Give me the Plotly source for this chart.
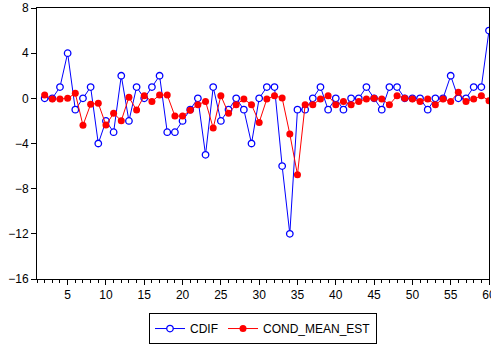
import plotly.graph_objects as go

obs = list(range(2, 61))
cdif = [0, 0, 1, 4, -1, 0, 1, -4, -2, -3, 2, -2, 1, 0, 1, 2, -3, -3, -2, -1,
        0, -5, 1, -2, -1, 0, -1, -4, 0, 1, 1, -6, -12, -1, -1, 0, 1, -1, 0, -1,
        0, 0, 1, 0, -1, 1, 1, 0, 0, 0, -1, 0, 0, 2, 0, 0, 1, 1, 6]
cond_mean_est = [0.29, -0.06, -0.06, 0.0, 0.44, -2.39, -0.53, -0.44, -2.36, -1.33,
                 -1.98, 0.09, -1.04, 0.23, -0.27, 0.29, 0.29, -1.57, -1.57, -1.06,
                 -0.56, -0.27, -2.63, 0.23, -1.33, -0.56, -0.06, -0.56, -2.13, -0.06,
                 0.23, 0.03, -3.16, -6.76, -0.56, -0.56, -0.06, 0.23, -0.56, -0.27,
                 -0.56, -0.27, -0.06, 0.0, -0.06, -0.56, 0.23, 0.0, -0.06, -0.27,
                 -0.06, -0.56, -0.06, -0.27, 0.53, -0.27, -0.06, 0.23, -0.21]
x_ticks = list(range(5, 61, 5))
y_ticks = [-16, -12, -8, -4, 0, 4, 8]

fig = go.Figure()
fig.add_trace(go.Scatter(
    x=obs, y=cdif, name="CDIF", mode="lines+markers",
    line=dict(color="#0000ff", width=1),
    marker=dict(symbol="circle", size=6.5, color="white",
                line=dict(width=1.3, color="#0000ff")),
))
fig.add_trace(go.Scatter(
    x=obs, y=cond_mean_est, name="COND_MEAN_EST", mode="lines+markers",
    line=dict(color="#ff0000", width=1),
    marker=dict(symbol="circle", size=7, color="#ff0000"),
))

fig.update_layout(
    width=491, height=344,
    margin=dict(l=37, r=2, t=8, b=65, autoexpand=False),
    paper_bgcolor="white", plot_bgcolor="white",
    font=dict(family="Liberation Sans, Arial", size=12, color="black"),
    showlegend=True,
    legend=dict(orientation="h", x=0.5, xanchor="center", y=-0.24, yanchor="bottom",
                bordercolor="black", borderwidth=1, font=dict(size=12),
                itemwidth=30, tracegroupgap=0),
    xaxis=dict(range=[1, 60], tickvals=x_ticks, ticks="outside", ticklen=5,
               tickcolor="black", showline=True, linecolor="black", linewidth=1,
               mirror=True, showgrid=False, zeroline=False, ticklabeloverflow="allow",
               automargin=False,
               minor=dict(dtick=1, tick0=0, ticks="outside", ticklen=3,
                          tickcolor="black", showgrid=False)),
    yaxis=dict(range=[-16, 8], tickvals=y_ticks, ticks="outside", ticklen=5,
               tickcolor="black", showline=True, linecolor="black", linewidth=1,
               mirror=True, showgrid=False, zeroline=False, automargin=False),
)

fig.write_html("out.html")
